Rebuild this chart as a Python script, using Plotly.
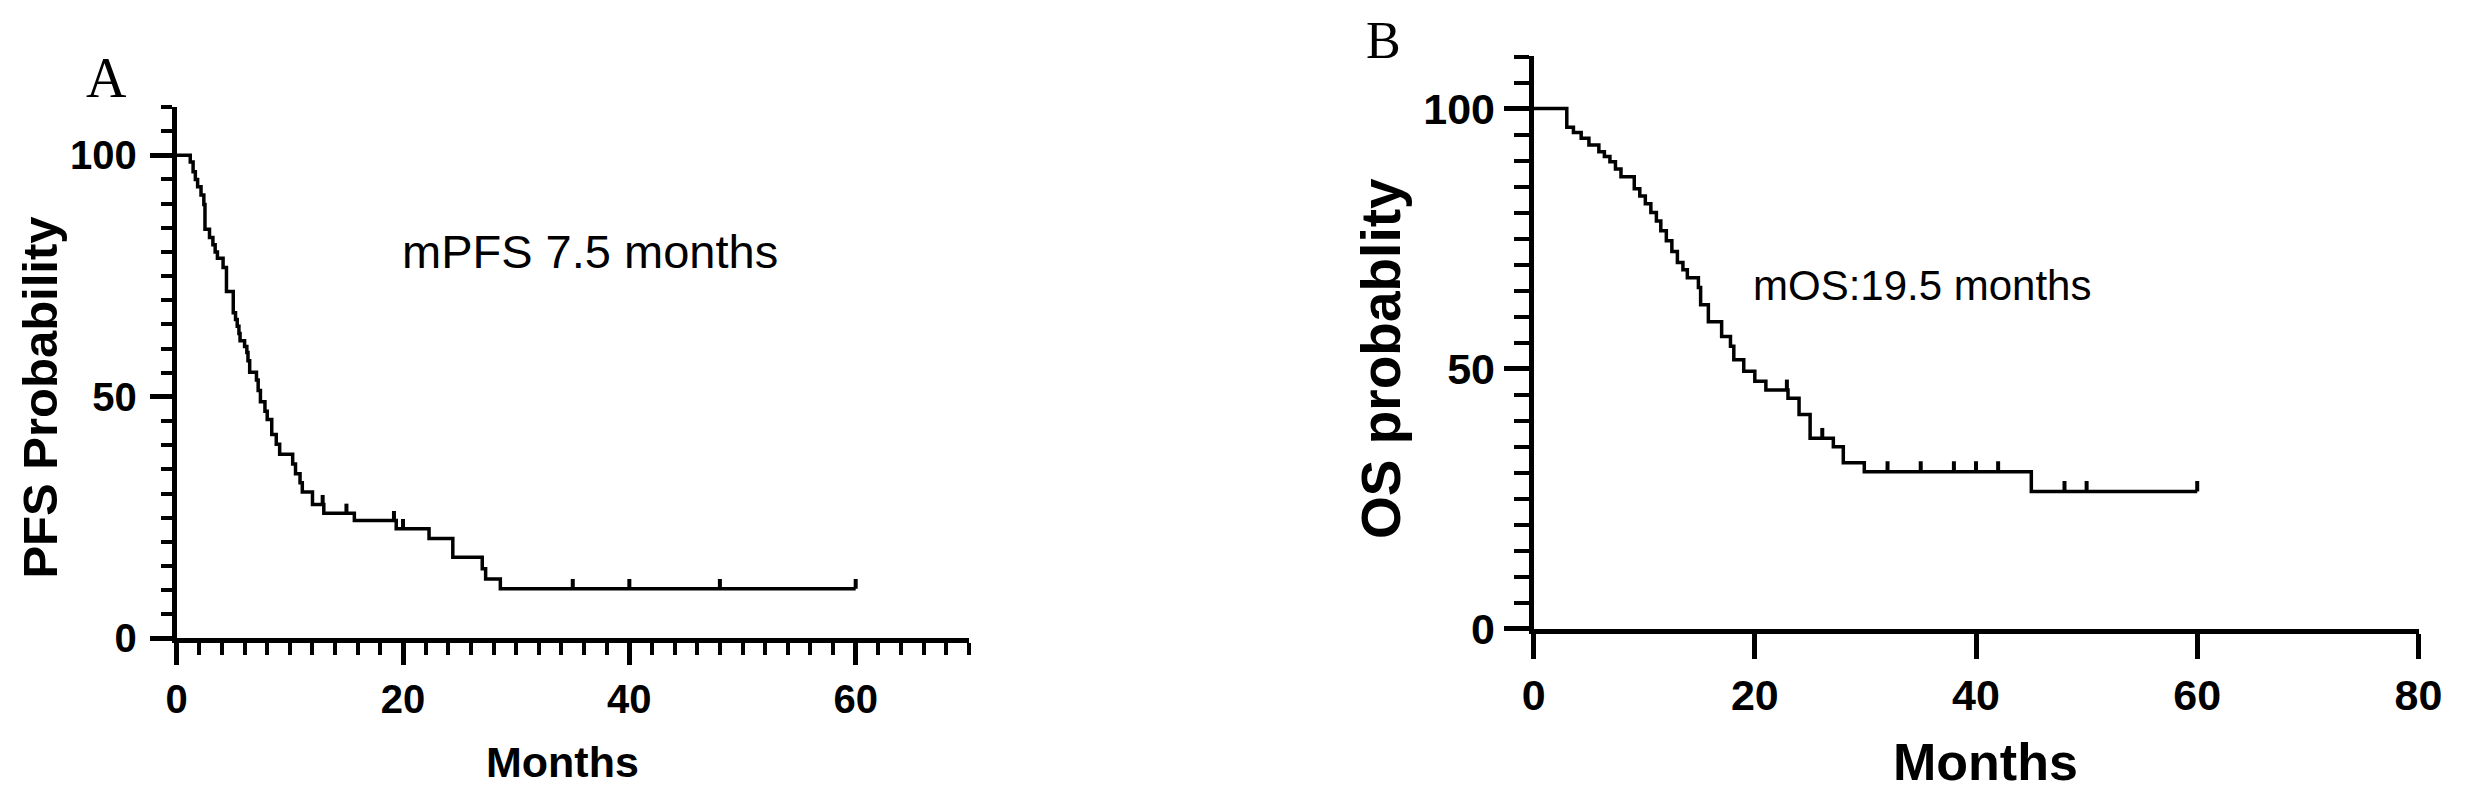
import plotly.graph_objects as go
import numpy as np

W, H = 2470, 798
SANS = "Arial, 'Liberation Sans', sans-serif"
SERIF = "'Times New Roman', 'Liberation Serif', serif"

# Panel A - progression free survival (percent), step drops
pfs_time = [0, 1.2, 1.45, 1.65, 1.85, 2.15, 2.4, 2.5, 2.9, 3.2,
            3.4, 3.6, 4.1, 4.4, 5.0, 5.2, 5.35, 5.5, 5.6, 6.0,
            6.2, 6.3, 6.45, 7.05, 7.2, 7.4, 7.8, 8.0, 8.4, 8.8,
            9.1, 10.25, 10.5, 10.9, 11.1, 12.0, 13.0, 15.7, 19.4, 22.3,
            24.4, 27.0, 27.3, 28.6]
pfs_surv = [100, 98.6, 96.6, 95.0, 93.5, 91.8, 89.8, 84.7, 83.0, 81.5,
            80.0, 78.7, 76.8, 71.8, 67.4, 66.0, 64.6, 63.1, 61.6, 60.4,
            59.2, 57.5, 55.1, 53.5, 51.3, 49.0, 47.0, 45.3, 42.2, 40.2,
            38.1, 36.1, 34.1, 32.2, 30.3, 27.7, 25.9, 24.4, 22.7, 20.7,
            16.8, 14.4, 12.3, 10.3]
pfs_censor = [12.9, 15.0, 19.2, 20.0, 35.0, 40.0, 48.0, 60.0]
pfs_end = 60

# Panel B - overall survival (percent)
os_time = [0, 3.0, 3.6, 4.3, 5.0, 5.9, 6.4, 6.9, 7.4, 7.9,
           9.1, 9.6, 10.1, 10.6, 11.1, 11.5, 12.0, 12.5, 13.0, 13.5,
           13.9, 14.9, 15.1, 15.8, 17.0, 17.8, 18.1, 19.0, 20.0, 21.0,
           23.0, 24.0, 25.0, 27.1, 28.0, 29.9, 45.0]
os_surv = [100, 96.4, 95.4, 94.3, 93.0, 91.7, 90.8, 89.8, 88.4, 86.9,
           84.6, 83.2, 81.7, 80.0, 78.4, 76.5, 74.6, 72.5, 70.4, 69.0,
           67.5, 65.6, 62.3, 59.0, 56.2, 54.3, 51.7, 49.5, 47.6, 45.9,
           44.3, 41.2, 36.6, 35.0, 31.9, 30.2, 26.4]
os_censor = [22.9, 26.1, 32.0, 35.0, 38.0, 40.0, 42.0, 48.0, 50.0, 60.0]
os_end = 60


def censor_segments(times, surv, cens, h=2.0):
    # short upward ticks sitting on the curve
    xs, ys = [], []
    for c in cens:
        i = np.searchsorted(times, c, side="right") - 1
        s = surv[i]
        xs += [c, c, None]
        ys += [s, s + h, None]
    return xs, ys


fig = go.Figure()

for times, surv, end, cens, xa, ya in [
    (pfs_time, pfs_surv, pfs_end, pfs_censor, "x", "y"),
    (os_time, os_surv, os_end, os_censor, "x2", "y2"),
]:
    fig.add_trace(go.Scatter(
        x=list(times) + [end], y=list(surv) + [surv[-1]],
        mode="lines", line=dict(color="black", width=3.5, shape="hv"),
        xaxis=xa, yaxis=ya, showlegend=False, hoverinfo="skip",
    ))
    cx, cy = censor_segments(times, surv, cens)
    fig.add_trace(go.Scatter(
        x=cx, y=cy, mode="lines", line=dict(color="black", width=4),
        xaxis=xa, yaxis=ya, showlegend=False, hoverinfo="skip",
    ))


def axis(domain, rng, tickvals, size, ticklen, minor=None, anchor=None, standoff=0):
    d = dict(
        domain=domain, range=rng, tickvals=tickvals, anchor=anchor,
        showline=True, linecolor="black", linewidth=5,
        ticks="outside", ticklen=ticklen, tickwidth=5, tickcolor="black",
        showgrid=False, zeroline=False, ticklabelstandoff=standoff,
        tickfont=dict(family=SANS, size=size, color="black", weight="bold"),
    )
    if minor:
        d["minor"] = dict(dtick=minor[0], tick0=0, ticklen=minor[1], tickwidth=4,
                          tickcolor="black", ticks="outside", showgrid=False)
    return d


fig.update_layout(
    width=W, height=H,
    margin=dict(l=0, r=0, t=0, b=0),
    paper_bgcolor="white", plot_bgcolor="white",
    xaxis=axis([159 / W, 963 / W], [0, 70.01], [0, 20, 40, 60], 40, 22, (2, 12), "y"),
    yaxis=axis([1 - 650 / H, 1 - 102 / H], [0, 110.01], [0, 50, 100], 40, 22, (5, 11), "x", 5),
    xaxis2=axis([1536 / W, 2434 / W], [0, 80.01], [0, 20, 40, 60, 80], 43, 25, None, "y2"),
    yaxis2=axis([1 - 640 / H, 1 - 50 / H], [0, 110.01], [0, 50, 100], 43, 25, (5, 15), "x2"),
)

notes = [
    # text, x px, y px, size, bold, font, angle
    ("Months", 551, 777, 43, True, SANS, 0),
    ("PFS Probability", 20, 402, 49, True, SANS, -90),
    ("Months", 1995, 777, 52, True, SANS, 0),
    ("OS probablity", 1381, 361, 55, True, SANS, -90),
    ("mPFS 7.5 months", 578, 251, 47, False, SANS, 0),
    ("mOS:19.5 months", 1930, 286, 42, False, SANS, 0),
    ("A", 88, 72, 56, False, SERIF, 0),
    ("B", 1384, 33, 52, False, SERIF, 0),
]
for text, x, y, size, bold, fam, ang in notes:
    fig.add_annotation(
        text=text, x=x / W, y=1 - y / H, xref="paper", yref="paper",
        xanchor="center", yanchor="middle", showarrow=False, textangle=ang,
        font=dict(family=fam, size=size, color="black", weight="bold" if bold else "normal"),
    )

fig.write_html("out.html")
